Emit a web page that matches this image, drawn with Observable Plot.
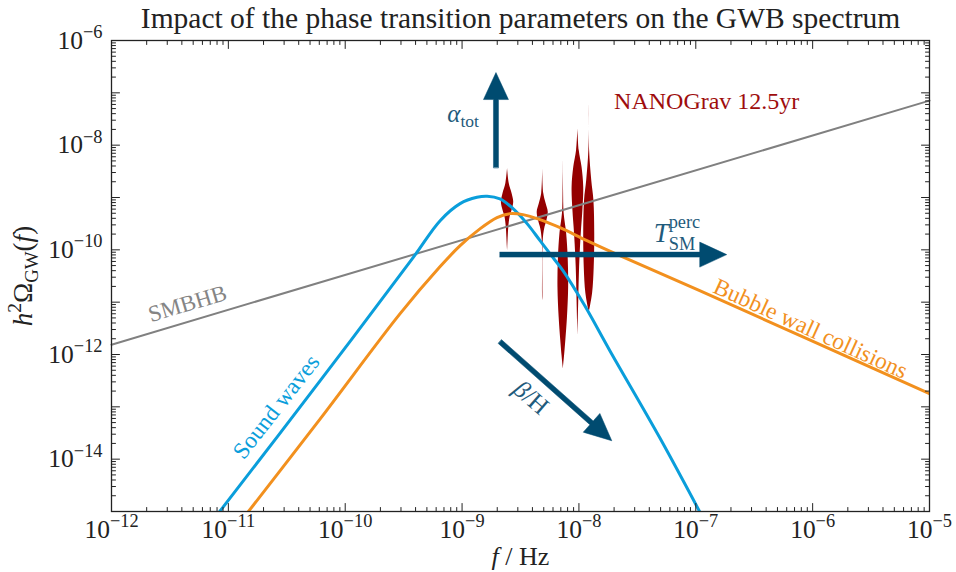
<!DOCTYPE html>
<html><head><meta charset="utf-8">
<script src="https://cdn.jsdelivr.net/npm/d3@7"></script>
<script src="https://cdn.jsdelivr.net/npm/@observablehq/plot@0.6"></script>
<style>body{margin:0;background:#fff;} #chart svg{display:block;}</style>
</head><body><div id="chart"></div>
<script>
// ---------- data ----------
const swFreq  = [8.4e-12, 6.11e-11, 3.81e-10, 6.49e-10, 9.62e-10, 1.34e-9, 1.64e-9, 2.11e-9, 2.73e-9, 3.6e-9, 4.65e-9, 6.0e-9, 7.3e-9, 1.12e-8, 1.84e-8, 4.92e-8, 1.08e-7];
const swOmega = [9.9e-16, 3.16e-13, 7.1e-11, 3.61e-10, 7.64e-10, 1.01e-9, 1.06e-9, 9.4e-10, 6.14e-10, 3.17e-10, 1.5e-10, 7.1e-11, 4.0e-11, 8.6e-12, 1.18e-12, 2.56e-14, 9.9e-16];

const bwFreq  = [1.48e-11, 6.11e-11, 2.95e-10, 6.49e-10, 9.62e-10, 1.43e-9, 1.99e-9, 2.57e-9, 3.32e-9, 4.65e-9, 6.89e-9, 1.17e-8, 2.24e-8, 1.08e-7, 1e-5];
const bwOmega = [9.9e-16, 5.9e-14, 6.03e-12, 4.78e-11, 1.2e-10, 2.54e-10, 4.13e-10, 4.92e-10, 4.71e-10, 3.78e-10, 2.65e-10, 1.5e-10, 7.74e-11, 1.66e-11, 1.78e-13];

const smbhbFreq  = [1e-12, 1e-5];
const smbhbOmega = [1.54e-12, 7.1e-8];

// NANOGrav 12.5yr violins: frequency bins, Omega samples and relative density
const ngFreq = [2.45e-9, 4.9e-9, 7.35e-9, 9.8e-9, 1.225e-8];
const ngOmega = [
  [3.57e-9, 1.85e-9, 1.19e-9, 8.09e-10, 5.62e-10, 4.18e-10, 2.69e-10, 1.10e-10, 9.66e-11],
  [3.57e-9, 1.19e-9, 7.64e-10, 5.21e-10, 3.61e-10, 2.54e-10, 1.50e-10, 1.22e-11, 1.07e-11],
  [5.08e-9, 1.36e-9, 4.92e-10, 2.04e-10, 6.21e-11, 1.89e-11, 5.06e-12, 1.84e-12, 9.5e-13, 5.35e-13],
  [2.07e-8, 7.88e-9, 3.78e-9, 1.57e-9, 5.62e-10, 2.04e-10, 4.62e-11, 1.07e-11, 2.29e-12],
  [5.97e-8, 7.88e-9, 2.11e-9, 8.73e-10, 2.04e-10, 4.62e-11, 1.46e-11, 6.30e-12]
];
const ngDensity = [
  [0, 0.28, 0.75, 1.03, 0.75, 0.42, 0.21, 0.03, 0],
  [0, 0.17, 0.56, 0.92, 0.69, 0.33, 0.08, 0.03, 0],
  [0, 0.04, 0.14, 0.56, 0.83, 0.89, 0.69, 0.42, 0.21, 0],
  [0, 0.22, 0.69, 0.97, 0.83, 0.56, 0.28, 0.14, 0],
  [0, 0.06, 0.42, 0.78, 0.92, 0.83, 0.56, 0]
];

// parameter arrows (data coordinates)
const arrowNames   = ["alpha", "T", "beta"];
const arrowFreq0   = [1.95e-9, 2.11e-9, 2.11e-9];
const arrowOmega0  = [3.73e-9, 8.1e-11, 1.76e-12];
const arrowFreq1   = [1.95e-9, 1.84e-7, 1.91e-8];
const arrowOmega1  = [2.44e-7, 8.1e-11, 2.25e-14];

// annotations (data coordinates)
const labelTexts = ["SMBHB", "Sound waves", "Bubble wall collisions", "NANOGrav 12.5yr", "αtot", "TSMperc", "β/H"];
const labelFreq  = [4.47e-12, 2.57e-11, 9.6e-7, 1.24e-7, 1.02e-9, 6.9e-8, 3.89e-9];
const labelOmega = [9.35e-12, 1.0e-13, 3.11e-12, 6.82e-8, 4.02e-8, 2.1e-10, 1.49e-13];

const xTickValues = [1e-12, 1e-11, 1e-10, 1e-9, 1e-8, 1e-7, 1e-6, 1e-5];
const yTickValues = [1e-14, 1e-12, 1e-10, 1e-8, 1e-6];
const titleText = "Impact of the phase transition parameters on the GWB spectrum";

// ---------- layout / style ----------
const W = 956, H = 572, ML = 111, MR = 27, MT = 40, MB = 61;
const xDomain = [1e-12, 1e-5], yDomain = [1e-15, 1e-6];
const cBlue = "#0a9edb", cOrange = "#f2901e", cGray = "#808080", cRed = "#940000", cArrow = "#004b70", cArrowText = "#1f5b7c";
const labelStyle = [
  {fill: "#858585", rotate: -16.6, size: 23},
  {fill: cBlue, rotate: -52, size: 23.5},
  {fill: cOrange, rotate: 24.5, size: 23.5},
  {fill: "#9e0d0d", rotate: 0, size: 24},
  {fill: cArrowText, rotate: 0, size: 25},
  {fill: cArrowText, rotate: 0, size: 27},
  {fill: cArrowText, rotate: 41, size: 25}
];

const px = d3.scaleLog(xDomain, [ML, W - MR]);
const py = d3.scaleLog(yDomain, [H - MB, MT]);

const sw = swFreq.map((f, i) => ({f, o: swOmega[i]}));
const bw = bwFreq.map((f, i) => ({f, o: bwOmega[i]}));
const smbhb = smbhbFreq.map((f, i) => ({f, o: smbhbOmega[i]}));
const halfDecades = 6 / 117;
const violins = ngFreq.flatMap((fc, k) => ngOmega[k].map((o, j) => ({
  k, o,
  x1: fc * Math.pow(10, -ngDensity[k][j] * halfDecades),
  x2: fc * Math.pow(10, ngDensity[k][j] * halfDecades)
})));
const arrows = arrowNames.map((name, i) => {
  const dx = px(arrowFreq1[i]) - px(arrowFreq0[i]);
  const dy = py(arrowOmega1[i]) - py(arrowOmega0[i]);
  return {name, f: arrowFreq1[i], o: arrowOmega1[i], len: Math.hypot(dx, dy), rot: Math.atan2(dx, -dy) * 180 / Math.PI};
});
const labels = labelTexts.map((t, i) => ({t, f: labelFreq[i], o: labelOmega[i], ...labelStyle[i]}));

const arrowShape = {draw(c, l) {
  const s = 2.5, w = 12.5, h = 27;
  c.moveTo(-s, 0); c.lineTo(-s, -(l - h)); c.lineTo(-w, -(l - h)); c.lineTo(0, -l);
  c.lineTo(w, -(l - h)); c.lineTo(s, -(l - h)); c.lineTo(s, 0); c.closePath();
}};
const tickShape = {draw(c, l) { c.moveTo(0, 0); c.lineTo(0, -l); }};

const decades = (a, b) => d3.range(a, b + 1);
const xMajor = decades(-12, -5).map(d => Math.pow(10, d));
const xMinor = decades(-12, -6).flatMap(d => d3.range(2, 10).map(m => m * Math.pow(10, d)));
const yMajor = decades(-15, -6).map(d => Math.pow(10, d));
const yMinor = decades(-15, -7).flatMap(d => d3.range(2, 10).map(m => m * Math.pow(10, d)));

const tickMarks = [];
for (const [vals, len] of [[xMajor, 8], [xMinor, 4]]) {
  tickMarks.push(Plot.vector(vals, {x: d => d, frameAnchor: "bottom", length: len, rotate: 0, anchor: "start", shape: tickShape, stroke: "#222", strokeWidth: 1}));
  tickMarks.push(Plot.vector(vals, {x: d => d, frameAnchor: "top", length: len, rotate: 180, anchor: "start", shape: tickShape, stroke: "#222", strokeWidth: 1}));
}
for (const [vals, len] of [[yMajor, 8], [yMinor, 4]]) {
  tickMarks.push(Plot.vector(vals, {y: d => d, frameAnchor: "left", length: len, rotate: 90, anchor: "start", shape: tickShape, stroke: "#222", strokeWidth: 1}));
  tickMarks.push(Plot.vector(vals, {y: d => d, frameAnchor: "right", length: len, rotate: -90, anchor: "start", shape: tickShape, stroke: "#222", strokeWidth: 1}));
}

const fmt = d => "10^" + Math.round(Math.log10(d));

const chart = Plot.plot({
  width: W, height: H,
  marginLeft: ML, marginRight: MR, marginTop: MT, marginBottom: MB,
  style: {fontFamily: "'Liberation Serif', serif", background: "#fff", color: "#222"},
  x: {type: "log", domain: xDomain, label: null},
  y: {type: "log", domain: yDomain, label: null},
  length: {type: "identity"},
  marks: [
    Plot.areaX(violins, {x1: "x1", x2: "x2", y: "o", z: "k", fill: cRed, curve: "catmull-rom"}),
    Plot.line(smbhb, {x: "f", y: "o", stroke: cGray, strokeWidth: 2}),
    Plot.line(sw, {x: "f", y: "o", stroke: cBlue, strokeWidth: 3, curve: "catmull-rom", clip: true}),
    Plot.line(bw, {x: "f", y: "o", stroke: cOrange, strokeWidth: 3, curve: "catmull-rom", clip: true}),
    Plot.vector(arrows, {x: "f", y: "o", length: "len", rotate: "rot", anchor: "end", shape: arrowShape, fill: cArrow, stroke: cArrow, strokeWidth: 0.5}),
    Plot.text(labels, {x: "f", y: "o", text: "t", fill: d => d.fill, rotate: "rotate", fontSize: "size"}),
    Plot.frame({stroke: "#222", strokeWidth: 1.3}),
    ...tickMarks,
    Plot.axisX({ticks: xTickValues, tickFormat: fmt, tickSize: 0, tickPadding: 8, fontSize: 25.5, label: null}),
    Plot.axisY({ticks: yTickValues, tickFormat: fmt, tickSize: 0, tickPadding: 9, fontSize: 25.5, label: null}),
    Plot.text([titleText], {text: d => d, frameAnchor: "top", dy: -22, lineAnchor: "middle", textAnchor: "middle", fontSize: 29.5, fill: "#222"}),
    Plot.text(["f / Hz"], {text: d => d, frameAnchor: "bottom", dy: 45, lineAnchor: "middle", textAnchor: "middle", fontSize: 26, fill: "#222"}),
    Plot.text(["h2ΩGW(f)"], {text: d => d, frameAnchor: "left", dx: -88, rotate: -90, lineAnchor: "middle", textAnchor: "middle", fontSize: 27, fill: "#222"})
  ]
});
document.getElementById("chart").appendChild(chart);

// rich text (italics, sub/superscripts) as real tspans
const rich = {
  "h2ΩGW(f)": [["h", "i"], ["2", "sup"], ["Ω", ""], ["GW", "sub"], ["(", ""], ["f", "i"], [")", ""]],
  "αtot": [["α", "i"], ["tot", "sub"]],
  "β/H": [["β", "i"], ["/H", ""]],
  "f / Hz": [["f", "i"], [" / Hz", ""]],
  "TSMperc": [["T", "i"], ["SM", "lowsub"], ["perc", "supstack"]]
};
chart.querySelectorAll("text").forEach(t => {
  if (t.querySelector("tspan")) return;
  const s = t.textContent;
  let segs = null;
  const m = s.match(/^10\^(-?\d+)$/);
  if (m) segs = [["10", ""], [m[1].replace("-", "−"), "sup"]];
  else if (rich[s]) segs = rich[s];
  if (!segs) return;
  const fs = parseFloat(getComputedStyle(t).fontSize);
  t.textContent = "";
  let cur = 0, prev = null;
  for (const [str, kind] of segs) {
    const ts = document.createElementNS("http://www.w3.org/2000/svg", "tspan");
    ts.textContent = str;
    let off = 0, size = fs;
    if (kind === "sup") { off = -0.42 * fs; size = 0.72 * fs; }
    else if (kind === "supstack") { off = -0.5 * fs; size = 0.68 * fs; }
    else if (kind === "sub") { off = 0.22 * fs; size = 0.7 * fs; }
    else if (kind === "lowsub") { off = 0.3 * fs; size = 0.68 * fs; }
    if (kind === "i") ts.setAttribute("font-style", "italic");
    ts.setAttribute("font-size", size);
    if (off !== cur) ts.setAttribute("dy", off - cur);
    cur = off;
    t.appendChild(ts);
    if (kind === "supstack" && prev) ts.setAttribute("dx", -prev.getComputedTextLength());
    prev = ts;
  }
  // keep the rotated axis title centred on its anchor
  if (s === "h2ΩGW(f)") {
    const bb = t.getBBox();
    const c = bb.x + bb.width / 2;
    if (Math.abs(c) > 0.5) t.setAttribute("x", (parseFloat(t.getAttribute("x")) || 0) - c);
  }
});
</script>
</body></html>
